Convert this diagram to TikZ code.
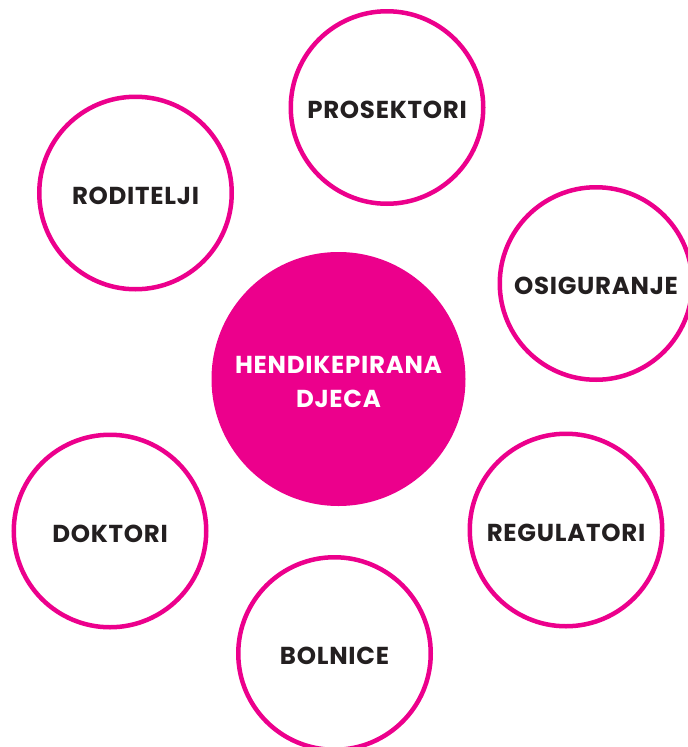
\documentclass[tikz,border=0pt]{standalone}
\usepackage{fontspec}
\setmainfont{Poppins}[LetterSpace=3]
\definecolor{mag}{HTML}{EC008C}
\definecolor{ink}{HTML}{231F20}
\begin{document}
\begin{tikzpicture}[x=1pt,y=-1pt,
  ring/.style={circle,draw=mag,line width=4.5pt,fill=white,minimum size=192.5pt,inner sep=0pt,
    text height=23pt,text depth=1pt,
    font=\fontsize{24.5}{28}\selectfont\bfseries,text=ink},
  hub/.style={circle,fill=mag,minimum size=254pt,inner sep=0pt,align=center,
    font=\fontsize{24.5}{34.5}\selectfont\bfseries,text=white}]
\useasboundingbox (0,0) rectangle (688,747);
\node[hub] (c) at (338.5,379) {};
\node[align=center,font=\fontsize{24.5}{34.5}\selectfont\bfseries,text=white] (ct) at (338.5,382) {HENDIKEPIRANA\\DJECA};
\node[ring] (pro) at (387,107.5) {PROSEKTORI};
\node[ring] (rod) at (135.5,193) {RODITELJI};
\node[ring] (osi) at (596,283.5) {OSIGURANJE};
\node[ring] (dok) at (110,531) {DOKTORI};
\node[ring] (reg) at (566,530) {REGULATORI};
\node[ring] (bol) at (334.5,653.5) {BOLNICE};
\end{tikzpicture}
\end{document}
